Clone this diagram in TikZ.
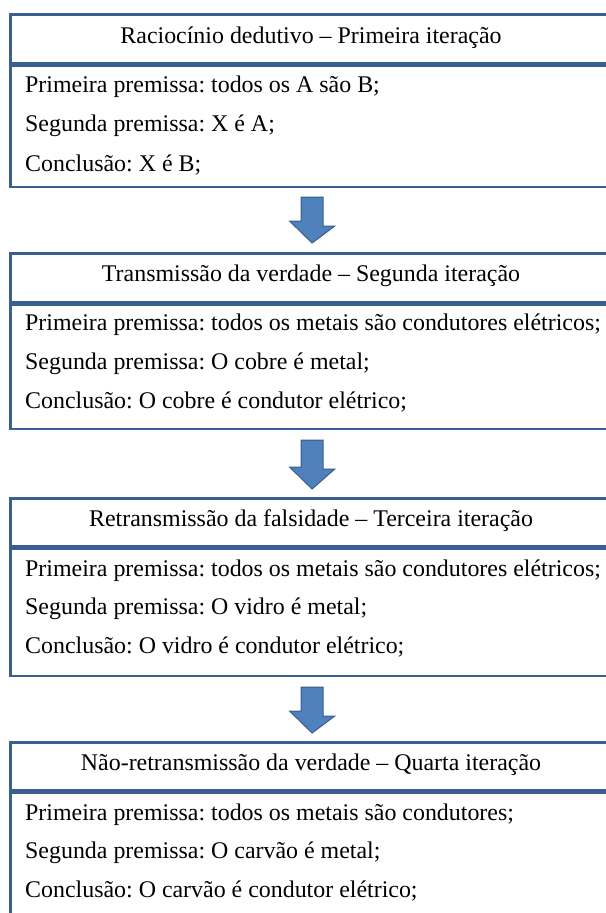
\documentclass[tikz,border=0pt]{standalone}
\usepackage{fontspec}
\setmainfont{Liberation Serif}
\frenchspacing
\definecolor{boxline}{RGB}{60,95,145}
\definecolor{arrfill}{RGB}{79,129,189}
\definecolor{arrline}{RGB}{56,93,138}
\tikzset{
  frame/.style={draw=boxline, line width=2.6bp, rectangle, inner sep=0pt,
                anchor=north west, minimum width=603.5bp},
  titlebox/.style={frame, minimum height=#1},
  bodybox/.style={frame, minimum height=#1},
  ttl/.style={anchor=base, inner sep=0pt, font=\fontsize{24}{28}\selectfont},
  txt/.style={anchor=base west, inner sep=0pt, font=\fontsize{24}{28}\selectfont},
  blockarr/.style={fill=arrfill, draw=arrline, line width=1bp, line join=miter}
}
\begin{document}
\begin{tikzpicture}[x=1bp,y=-1bp]
\useasboundingbox (0,0) rectangle (606,913);
\clip (0,0) rectangle (606,913);
\fill[white] (0,0) rectangle (606,913);

% Box 1
\node[titlebox=49bp] (t1) at (9,13) {};
\node[bodybox=121bp] (c1) at (t1.south west) {};
\node[ttl] (t1x) at (311,43) {Raciocínio dedutivo – Primeira iteração};
\node[txt] (l11) at (25,92) {Primeira premissa: todos os A são B;};
\node[txt] (l12) at (25,131) {Segunda premissa: X é A;};
\node[txt] (l13) at (25,171) {Conclusão: X é B;};

% Box 2
\node[titlebox=49bp] (t2) at (9,252) {};
\node[bodybox=124bp] (c2) at (t2.south west) {};
\node[ttl] (t2x) at (311,281) {Transmissão da verdade – Segunda iteração};
\node[txt] (l21) at (25,330) {Primeira premissa: todos os metais são condutores elétricos;};
\node[txt] (l22) at (25,369) {Segunda premissa: O cobre é metal;};
\node[txt] (l23) at (25,408) {Conclusão: O cobre é condutor elétrico;};

% Box 3
\node[titlebox=48bp] (t3) at (9,497) {};
\node[bodybox=127bp] (c3) at (t3.south west) {};
\node[ttl] (t3x) at (311,526) {Retransmissão da falsidade – Terceira iteração};
\node[txt] (l31) at (25,576) {Primeira premissa: todos os metais são condutores elétricos;};
\node[txt] (l32) at (25,614) {Segunda premissa: O vidro é metal;};
\node[txt] (l33) at (25,653) {Conclusão: O vidro é condutor elétrico;};

% Box 4
\node[titlebox=48bp] (t4) at (9,741) {};
\node[bodybox=150bp] (c4) at (t4.south west) {};
\node[ttl] (t4x) at (311,770) {Não-retransmissão da verdade – Quarta iteração};
\node[txt] (l41) at (25,820) {Primeira premissa: todos os metais são condutores;};
\node[txt] (l42) at (25,858) {Segunda premissa: O carvão é metal;};
\node[txt] (l43) at (25,897) {Conclusão: O carvão é condutor elétrico;};

% Block arrows
\draw[blockarr] (c1.south) ++(-11,9) -- ++(22,0) -- ++(0,29) -- ++(11.5,0)
  -- ([yshift=9bp]t2.north) -- ++(-22.5,-22) -- ++(11.5,0) -- cycle;
\draw[blockarr] (c2.south) ++(-11,10) -- ++(22,0) -- ++(0,29) -- ++(11.5,0)
  -- ([yshift=8bp]t3.north) -- ++(-22.5,-22) -- ++(11.5,0) -- cycle;
\draw[blockarr] (c3.south) ++(-11,10) -- ++(22,0) -- ++(0,29) -- ++(11.5,0)
  -- ([yshift=8bp]t4.north) -- ++(-22.5,-22) -- ++(11.5,0) -- cycle;
\end{tikzpicture}
\end{document}
